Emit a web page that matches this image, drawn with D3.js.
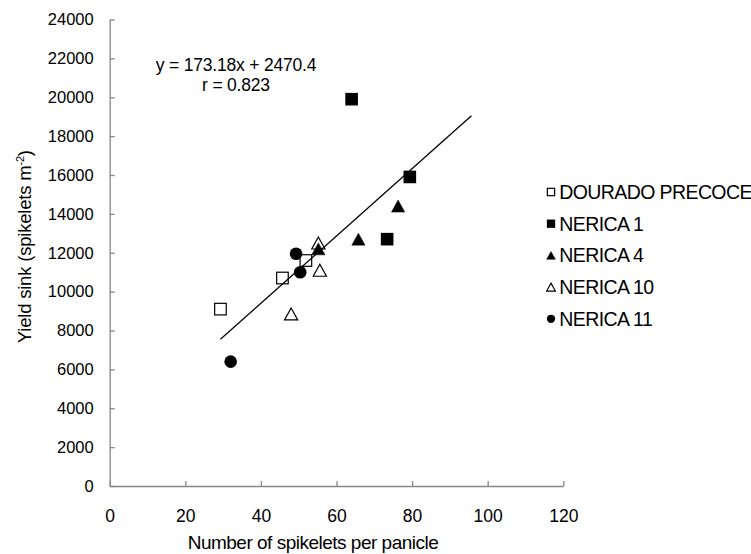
<!DOCTYPE html>
<html>
<head>
<meta charset="utf-8">
<script src="https://cdn.jsdelivr.net/npm/d3@7"></script>
<style>
  html, body { margin: 0; padding: 0; background: #fff; }
  svg { display: block; font-family: "Liberation Sans", Arial, Helvetica, sans-serif; }
</style>
</head>
<body>
<svg id="chart" width="751" height="554"></svg>
<script>
// ---- data ----
const seriesNames = ["DOURADO PRECOCE", "NERICA 1", "NERICA 4", "NERICA 10", "NERICA 11"];
const seriesMarkers = ["squareOpen", "squareFilled", "triangleFilled", "triangleOpen", "circleFilled"];
const douradoX = [29.3, 45.7, 51.9];
const douradoY = [9100, 10700, 11600];
const nerica1X = [64.0, 79.4, 73.4];
const nerica1Y = [19900, 15900, 12700];
const nerica4X = [76.3, 65.8, 55.2];
const nerica4Y = [14400, 12700, 12200];
const nerica10X = [55.2, 55.6, 48.0];
const nerica10Y = [12500, 11100, 8850];
const nerica11X = [49.3, 50.4, 32.0];
const nerica11Y = [11950, 11000, 6400];
const trendSlope = 173.18;
const trendIntercept = 2470.4;
const trendRange = [29.3, 95.7];
const equationLines = ["y = 173.18x + 2470.4", "r = 0.823"];
const xTicks = [0, 20, 40, 60, 80, 100, 120];
const yTicks = [0, 2000, 4000, 6000, 8000, 10000, 12000, 14000, 16000, 18000, 20000, 22000, 24000];

const seriesX = [douradoX, nerica1X, nerica4X, nerica10X, nerica11X];
const seriesY = [douradoY, nerica1Y, nerica4Y, nerica10Y, nerica11Y];

// ---- layout ----
const svg = d3.select("#chart");
const axisColor = "#868686";
const x = d3.scaleLinear().domain([0, 120]).range([109.7, 563.3]);
const y = d3.scaleLinear().domain([0, 24000]).range([486, 19.5]);

// axes
const yAxis = d3.axisLeft(y).tickValues(yTicks).tickSizeInner(-5).tickSizeOuter(0).tickPadding(16).tickFormat(d3.format("d"));
const gy = svg.append("g").attr("transform", `translate(${x(0)},0)`).call(yAxis);
gy.select(".domain").attr("stroke", axisColor).attr("stroke-width", 1.3);
gy.selectAll(".tick line").attr("stroke", axisColor).attr("stroke-width", 1.3);
gy.selectAll(".tick text").attr("font-size", 16.5).attr("fill", "#000")
  .attr("font-family", "'Liberation Sans', Arial, sans-serif");

const xAxis = d3.axisBottom(x).tickValues(xTicks).tickSizeInner(-5).tickSizeOuter(0).tickPadding(23.5).tickFormat(d3.format("d"));
const gx = svg.append("g").attr("transform", `translate(0,${y(0)})`).call(xAxis);
gx.select(".domain").attr("stroke", axisColor).attr("stroke-width", 1.3);
gx.selectAll(".tick line").attr("stroke", axisColor).attr("stroke-width", 1.3);
gx.selectAll(".tick text").attr("font-size", 17.5).attr("fill", "#000")
  .attr("font-family", "'Liberation Sans', Arial, sans-serif");

// axis titles
svg.append("text")
  .attr("x", 313).attr("y", 549)
  .attr("text-anchor", "middle")
  .attr("font-size", 19).attr("letter-spacing", -0.5)
  .text("Number of spikelets per panicle");

const yt = svg.append("text")
  .attr("transform", "translate(31,246.7) rotate(-90)")
  .attr("text-anchor", "middle")
  .attr("font-size", 18.5).attr("letter-spacing", -0.2);
yt.append("tspan").text("Yield sink (spikelets m");
yt.append("tspan").attr("font-size", 11).attr("dy", -7).text("-2");
yt.append("tspan").attr("dy", 7).text(")");

// marker drawer
function drawMarker(g, type, cx, cy, s) {
  const h = s / 2;
  if (type.startsWith("square")) {
    const filled = type === "squareFilled";
    g.append("rect")
      .attr("x", cx - h + (filled ? 0 : 0.5)).attr("y", cy - h + (filled ? 0 : 0.5))
      .attr("width", s - (filled ? 0 : 1)).attr("height", s - (filled ? 0 : 1))
      .attr("fill", filled ? "#000" : "none")
      .attr("stroke", "#000").attr("stroke-width", filled ? 0 : 1.2);
  } else if (type.startsWith("triangle")) {
    const filled = type === "triangleFilled";
    const w = s * 1.05, ht = s * 0.95;
    const pts = [[cx, cy - ht / 2], [cx + w / 2, cy + ht / 2], [cx - w / 2, cy + ht / 2]];
    g.append("path")
      .attr("d", d3.line()(pts) + "Z")
      .attr("fill", filled ? "#000" : "none")
      .attr("stroke", "#000").attr("stroke-width", filled ? 0.5 : 1.2)
      .attr("stroke-linejoin", "miter");
  } else {
    g.append("circle").attr("cx", cx).attr("cy", cy).attr("r", s / 2).attr("fill", "#000");
  }
}

// points
const gp = svg.append("g");
seriesNames.forEach((name, i) => {
  seriesX[i].forEach((vx, j) => {
    drawMarker(gp, seriesMarkers[i], x(vx), y(seriesY[i][j]), 12.6);
  });
});

// trendline
const trendPts = trendRange.map(v => [x(v), y(trendSlope * v + trendIntercept)]);
svg.append("path")
  .attr("d", d3.line()(trendPts))
  .attr("stroke", "#000").attr("stroke-width", 1.3).attr("fill", "none");

// equation
equationLines.forEach((t, i) => {
  svg.append("text")
    .attr("x", 236).attr("y", 70.7 + i * 20)
    .attr("text-anchor", "middle")
    .attr("font-size", 17.5).attr("letter-spacing", -0.2)
    .text(t);
});

// legend
const gl = svg.append("g");
seriesNames.forEach((name, i) => {
  const cy = 192 + i * 31.7;
  drawMarker(gl, seriesMarkers[i], 551, cy, 8.3);
  gl.append("text")
    .attr("x", 559.3).attr("y", cy + 7)
    .attr("font-size", 19.5).attr("letter-spacing", -0.6)
    .text(name);
});
</script>
</body>
</html>
